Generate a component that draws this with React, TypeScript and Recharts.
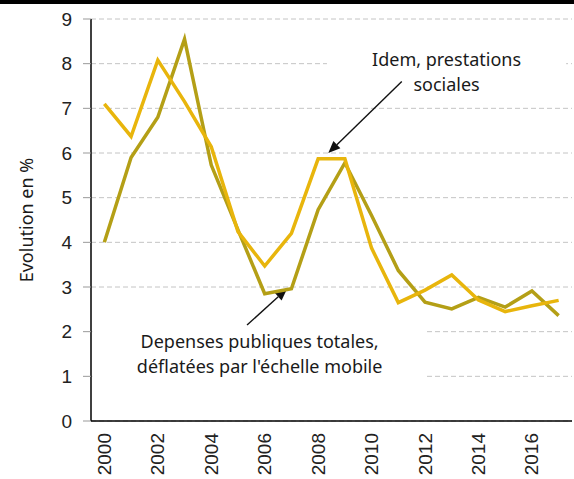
import { LineChart, Line, XAxis, YAxis, CartesianGrid, ReferenceArea, ReferenceLine } from 'recharts';

// années (une catégorie par an)
const YEARS = [2000, 2001, 2002, 2003, 2004, 2005, 2006, 2007, 2008, 2009, 2010, 2011, 2012, 2013, 2014, 2015, 2016, 2017];

// Depenses publiques totales, déflatées par l'échelle mobile
const DEPENSES_TOTALES = [4.0, 5.9, 6.8, 8.55, 5.73, 4.28, 2.85, 2.96, 4.73, 5.78, 4.6, 3.37, 2.66, 2.51, 2.77, 2.55, 2.91, 2.36];

// Idem, prestations sociales
const PRESTATIONS = [7.1, 6.37, 8.08, 7.15, 6.14, 4.24, 3.47, 4.2, 5.87, 5.87, 3.87, 2.65, 2.93, 3.27, 2.71, 2.45, 2.58, 2.7];

const Y_TICKS = [0, 1, 2, 3, 4, 5, 6, 7, 8, 9];
const YEAR_LABELS = [2000, 2002, 2004, 2006, 2008, 2010, 2012, 2014, 2016];
const BOUNDARIES = [...YEARS.map((y) => y - 0.5), 2017.5];

const LABEL_IDEM = ['Idem, prestations', 'sociales'];
const LABEL_DEP = ['Depenses publiques totales,', "déflatées par l'échelle mobile"];

const OLIVE = '#b49f16';
const YELLOW = '#e8b50c';
const ANNO_FONT = '"Noto Sans", sans-serif';

const data = YEARS.map((year, i) => ({
  year,
  depenses: DEPENSES_TOTALES[i],
  prestations: PRESTATIONS[i],
}));

const YearTick = ({ x, y, payload }: any) => (
  <text
    x={x}
    y={y}
    transform={`rotate(-90, ${x}, ${y})`}
    textAnchor="end"
    dominantBaseline="central"
    fontSize={19}
    fontFamily='"Liberation Sans", Arial, sans-serif'
    fill="#222"
  >
    {payload.value}
  </text>
);

// texte centré sur fond blanc (cache le quadrillage)
const annoContent = (lines: string[]) => (props: any) => {
  const vb = props.viewBox;
  const cx = vb.x + vb.width / 2;
  return (
    <g>
      {lines.map((l, i) => (
        <text key={i} x={cx} y={vb.y + 25 + i * 25} textAnchor="middle" fontSize={18} fontFamily={ANNO_FONT} fill="#1a1a1a">
          {l}
        </text>
      ))}
    </g>
  );
};

const Arrow = (p: any) => {
  const { x1, y1, x2, y2 } = p;
  const dx = x2 - x1;
  const dy = y2 - y1;
  const len = Math.hypot(dx, dy) || 1;
  const ux = dx / len;
  const uy = dy / len;
  const hl = 12;
  const hw = 5;
  const bx = x2 - ux * hl;
  const by = y2 - uy * hl;
  const pts = `${x2},${y2} ${bx - uy * hw},${by + ux * hw} ${bx + uy * hw},${by - ux * hw}`;
  return (
    <g>
      <line x1={x1} y1={y1} x2={bx} y2={by} stroke="#111" strokeWidth={1.4} />
      <polygon points={pts} fill="#111" />
    </g>
  );
};

export default function App() {
  return (
    <div style={{ position: 'absolute', left: 0, top: 0, width: 574, height: 479, background: '#fff' }}>
      <div style={{ position: 'absolute', left: 0, top: 0, width: 574, height: 4, background: '#000', zIndex: 2 }} />
      <LineChart
        width={574}
        height={479}
        data={data}
        margin={{ top: 19, right: 2, bottom: 0, left: 0 }}
        style={{ fontFamily: '"Liberation Sans", Arial, sans-serif' }}
      >
        <CartesianGrid xAxisId="yr" vertical={false} stroke="#c4c4c4" strokeDasharray="5 3" />
        <XAxis
          xAxisId="grid"
          type="number"
          dataKey="year"
          domain={[1999.5, 2017.5]}
          ticks={BOUNDARIES}
          tick={false}
          tickSize={7}
          tickLine={{ stroke: '#999' }}
          axisLine={{ stroke: '#000', strokeWidth: 1.5 }}
          height={1}
          allowDataOverflow
        />
        <XAxis
          xAxisId="yr"
          type="number"
          dataKey="year"
          domain={[1999.5, 2017.5]}
          ticks={YEAR_LABELS}
          axisLine={false}
          tickLine={false}
          tickMargin={5}
          tick={<YearTick />}
          interval={0}
          height={57}
          allowDataOverflow
        />
        <YAxis
          domain={[0, 9]}
          ticks={Y_TICKS}
          width={91}
          tickSize={8}
          tickMargin={11}
          tickLine={{ stroke: '#999' }}
          axisLine={{ stroke: '#000', strokeWidth: 1.5 }}
          tick={{ fontSize: 19, fill: '#222' }}
          interval={0}
          label={{
            content: (props: any) => {
              const vb = props.viewBox;
              const cy = vb.y + vb.height / 2;
              return (
                <text
                  x={33}
                  y={cy}
                  transform={`rotate(-90, 33, ${cy})`}
                  textAnchor="middle"
                  fontSize={18}
                  fontFamily={ANNO_FONT}
                  fill="#1a1a1a"
                >
                  Evolution en %
                </text>
              );
            },
          }}
        />
        <ReferenceArea
          xAxisId="yr"
          x1={2008.33}
          x2={2017.28}
          y1={7.3}
          y2={8.5}
          fill="#fff"
          fillOpacity={1}
          stroke="none"
          label={annoContent(LABEL_IDEM)}
        />
        <ReferenceArea
          xAxisId="yr"
          x1={1999.55}
          x2={2012.07}
          y1={0.8}
          y2={2.2}
          fill="#fff"
          fillOpacity={1}
          stroke="none"
          label={annoContent(LABEL_DEP)}
        />
        <ReferenceLine
          xAxisId="yr"
          segment={[{ x: 2011.13, y: 7.6 }, { x: 2008.38, y: 6.0 }]}
          shape={Arrow}
        />
        <ReferenceLine
          xAxisId="yr"
          segment={[{ x: 2005.34, y: 2.15 }, { x: 2006.84, y: 2.96 }]}
          shape={Arrow}
        />
        <Line
          xAxisId="yr"
          type="linear"
          dataKey="depenses"
          stroke={OLIVE}
          strokeWidth={3.5}
          dot={false}
          isAnimationActive={false}
        />
        <Line
          xAxisId="yr"
          type="linear"
          dataKey="prestations"
          stroke={YELLOW}
          strokeWidth={3.5}
          dot={false}
          isAnimationActive={false}
        />
      </LineChart>
    </div>
  );
}
